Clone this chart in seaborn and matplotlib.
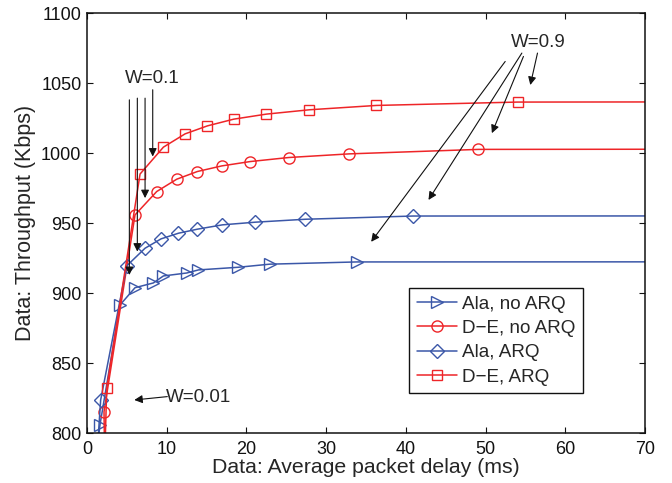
import matplotlib
matplotlib.use("Agg")
import matplotlib.pyplot as plt
import seaborn as sns
import pandas as pd

# Average packet delay (ms) and throughput (Kbps) for each scheme
ala_noarq_delay = [1.25, 1.63, 4.14, 6.02, 8.32, 9.58, 12.5, 13.97, 18.98, 22.9, 33.8, 90.0]
ala_noarq_tput = [788, 806, 891.5, 903.8, 907.2, 912.2, 914.3, 916.5, 918.4, 920.6, 922.2, 922.3]

de_noarq_delay = [2.2, 2.13, 6.02, 8.74, 11.25, 13.84, 16.9, 20.45, 25.3, 32.9, 49.1, 90.0]
de_noarq_tput = [788, 815.2, 955.8, 972.5, 981.3, 986.8, 990.8, 993.9, 996.8, 999.4, 1002.6, 1002.8]

ala_arq_delay = [1.3, 1.71, 4.98, 7.28, 9.29, 11.46, 13.84, 16.98, 21.1, 27.4, 40.9, 90.0]
ala_arq_tput = [788, 823.6, 919.4, 932.0, 938.7, 942.7, 945.6, 948.7, 950.6, 952.7, 955.0, 955.1]

de_arq_delay = [2.25, 2.47, 6.65, 9.58, 12.3, 15.1, 18.4, 22.5, 27.9, 36.3, 54.0, 90.0]
de_arq_tput = [788, 832.0, 985.0, 1004.2, 1013.7, 1019.4, 1024.2, 1027.8, 1030.9, 1034.0, 1036.4, 1036.6]

series_names = ["Ala, no ARQ", "D\u2212E, no ARQ", "Ala, ARQ", "D\u2212E, ARQ"]
series_x = [ala_noarq_delay, de_noarq_delay, ala_arq_delay, de_arq_delay]
series_y = [ala_noarq_tput, de_noarq_tput, ala_arq_tput, de_arq_tput]

x_ticks = [0, 10, 20, 30, 40, 50, 60, 70]
y_ticks = [800, 850, 900, 950, 1000, 1050, 1100]

# Annotation arrows: (start_x, start_y, end_x, end_y)
w01_arrows = [(5.31, 1038.0, 5.31, 912.9), (6.31, 1039.2, 6.31, 929.6),
              (7.28, 1039.2, 7.28, 967.8), (8.24, 1045.2, 8.24, 997.5)]
w09_arrows = [(52.45, 1065.4, 35.64, 936.6), (54.54, 1071.4, 42.83, 966.5),
              (54.74, 1069.0, 50.78, 1014.2), (56.5, 1071.4, 55.6, 1048.6)]
w001_arrow = (10.07, 826.0, 5.93, 823.6)

sns.set_style("ticks")
plt.rcParams["font.family"] = ["Liberation Sans", "DejaVu Sans"]

blue = "#3b57a8"
red = "#ee2528"
styles = [(blue, ">"), (red, "o"), (blue, "D"), (red, "s")]
sizes = [9, 8, 7, 7]

fig = plt.figure(figsize=(6.72, 4.83), dpi=100)
ax = fig.add_axes([0.1295, 0.1035, 0.8305, 0.8695])

for name, xs, ys, (col, mk), ms in zip(series_names, series_x, series_y, styles, sizes):
    df = pd.DataFrame({"delay": xs, "tput": ys})
    sns.lineplot(data=df, x="delay", y="tput", ax=ax, estimator=None, sort=False,
                 color=col, marker=mk, markersize=ms, markerfacecolor="none",
                 markeredgecolor=col, markeredgewidth=1.0, linewidth=1.1,
                 label=name)

ax.set_xlim(0, 70)
ax.set_ylim(800, 1100)
ax.set_xticks(x_ticks)
ax.set_yticks(y_ticks)
ax.tick_params(direction="in", top=True, right=True, length=4, width=0.8,
               labelsize=13, colors="#111111")
ax.tick_params(axis="x", pad=6)
ax.tick_params(axis="y", pad=4)
for sp in ax.spines.values():
    sp.set_visible(True)
    sp.set_linewidth(1.1)
    sp.set_color("#111111")

ax.set_xlabel("Data: Average packet delay (ms)", fontsize=15.3, labelpad=0)
ax.set_ylabel("Data: Throughput (Kbps)", fontsize=15.5, labelpad=4)

arrow_kw = dict(arrowstyle="-|>", color="#111111", lw=0.8, mutation_scale=12,
                shrinkA=0, shrinkB=0)
for sx, sy, ex, ey in w01_arrows + w09_arrows + [w001_arrow]:
    ax.annotate("", xy=(ex, ey), xytext=(sx, sy), arrowprops=arrow_kw)

ax.text(8.2, 1053, "W=0.1", fontsize=13.5, ha="center", va="center")
ax.text(56.6, 1079, "W=0.9", fontsize=13.5, ha="center", va="center")
ax.text(14.05, 825.4, "W=0.01", fontsize=13.5, ha="center", va="center")

leg = ax.legend(loc="lower right", bbox_to_anchor=(0.889, 0.0945), borderaxespad=0,
                fontsize=13.6, frameon=True, fancybox=False, framealpha=1,
                edgecolor="#111111", handlelength=2.1, handletextpad=0.3,
                borderpad=0.4, labelspacing=0.38)
leg.get_frame().set_linewidth(1.0)

fig.savefig("out.png", dpi=100)
